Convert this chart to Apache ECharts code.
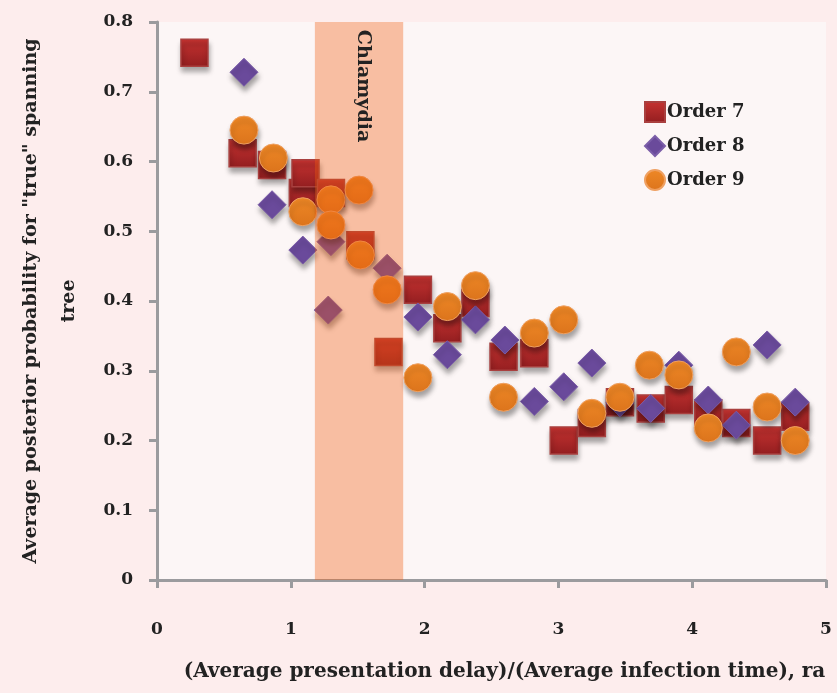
<!DOCTYPE html>
<html>
<head>
<meta charset="utf-8">
<script src="https://cdn.jsdelivr.net/npm/echarts@6/dist/echarts.min.js"></script>
<style>
  html, body { margin: 0; padding: 0; background: #fdeded; }
  #chart { width: 837px; height: 693px; }
</style>
</head>
<body>
<div id="chart"></div>
<script>
  // values
  let order7X = [0.28, 0.64, 0.86, 1.09, 1.11, 1.30, 1.52, 1.73, 1.95, 2.17, 2.38, 2.59, 2.82, 3.04, 3.25, 3.46, 3.69, 3.90, 4.12, 4.33, 4.56, 4.77];
  let order7Y = [0.756, 0.612, 0.595, 0.555, 0.583, 0.555, 0.48, 0.327, 0.416, 0.361, 0.397, 0.32, 0.325, 0.20, 0.225, 0.255, 0.246, 0.258, 0.239, 0.225, 0.20, 0.234];
  let order8X = [0.65, 0.86, 1.09, 1.28, 1.30, 1.72, 1.95, 2.17, 2.38, 2.60, 2.82, 3.04, 3.25, 3.46, 3.69, 3.90, 4.12, 4.33, 4.56, 4.77];
  let order8Y = [0.728, 0.538, 0.473, 0.387, 0.485, 0.447, 0.377, 0.323, 0.373, 0.344, 0.256, 0.277, 0.311, 0.254, 0.246, 0.308, 0.258, 0.222, 0.337, 0.255];
  let order9X = [0.65, 0.87, 1.09, 1.30, 1.30, 1.51, 1.52, 1.72, 1.95, 2.17, 2.38, 2.59, 2.82, 3.04, 3.25, 3.46, 3.68, 3.90, 4.12, 4.33, 4.56, 4.77];
  let order9Y = [0.645, 0.605, 0.528, 0.545, 0.509, 0.559, 0.466, 0.416, 0.29, 0.392, 0.422, 0.262, 0.354, 0.373, 0.239, 0.262, 0.308, 0.294, 0.218, 0.327, 0.248, 0.20];
  let seriesNames = ['Order 7', 'Order 8', 'Order 9'];
  let bandRange = [1.18, 1.84];
  let bandLabel = 'Chlamydia';
  let xTicks = [0, 1, 2, 3, 4, 5];
  let yTicks = [0, 0.1, 0.2, 0.3, 0.4, 0.5, 0.6, 0.7, 0.8];

  let font = 'DejaVu Serif';
  let textColor = '#222';
  let axisColor = '#9b9b9e';

  function pairs(xs, ys) {
    return xs.map(function (x, i) { return [x, ys[i]]; });
  }
  function grad(top, bottom) {
    return new echarts.graphic.LinearGradient(0, 0, 0, 1, [
      { offset: 0, color: top },
      { offset: 1, color: bottom }
    ]);
  }
  let shadow = {
    shadowBlur: 5,
    shadowOffsetX: 1,
    shadowOffsetY: 5,
    shadowColor: 'rgba(0,0,0,0.35)'
  };

  let chart = echarts.init(document.getElementById('chart'));
  let option = {
    backgroundColor: '#fdeded',
    animation: false,
    grid: {
      left: 157,
      right: 11,
      top: 22,
      bottom: 113,
      containLabel: false,
      outerBoundsMode: 'none',
      show: true,
      backgroundColor: '#fcf6f6',
      borderWidth: 0
    },
    legend: {
      orient: 'vertical',
      left: 639,
      top: 96,
      itemWidth: 20,
      itemHeight: 20,
      itemGap: 12,
      textStyle: { fontFamily: font, fontSize: 18, fontWeight: 'bold', color: textColor, padding: [0, 0, 0, -3] },
      data: [
        { name: seriesNames[0], icon: 'rect' },
        { name: seriesNames[1], icon: 'diamond' },
        { name: seriesNames[2], icon: 'circle' }
      ]
    },
    xAxis: {
      type: 'value',
      min: xTicks[0],
      max: xTicks[xTicks.length - 1],
      interval: 1,
      name: '(Average presentation delay)/(Average infection time), ra',
      nameLocation: 'middle',
      nameGap: 82,
      nameTextStyle: { fontFamily: font, fontSize: 20, fontWeight: 'bold', color: textColor, padding: [0, 0, 0, 26] },
      axisLine: { lineStyle: { color: axisColor, width: 3 } },
      axisTick: { show: true, length: 8, lineStyle: { color: axisColor, width: 3 } },
      axisLabel: { margin: 41, fontFamily: font, fontSize: 17, fontWeight: 'bold', color: textColor },
      splitLine: { show: false }
    },
    yAxis: {
      type: 'value',
      min: yTicks[0],
      max: yTicks[yTicks.length - 1],
      interval: 0.1,
      name: 'Average posterior probability for "true" spanning\ntree',
      nameLocation: 'middle',
      nameGap: 69,
      nameTextStyle: { fontFamily: font, fontSize: 19, fontWeight: 'bold', color: textColor, lineHeight: 38 },
      axisLine: { lineStyle: { color: axisColor, width: 3 } },
      axisTick: { show: true, length: 8, lineStyle: { color: axisColor, width: 3 } },
      axisLabel: { margin: 24, fontFamily: font, fontSize: 17, fontWeight: 'bold', color: textColor },
      splitLine: { show: false }
    },
    series: [
      {
        name: seriesNames[0],
        type: 'scatter',
        symbol: 'rect',
        symbolSize: 27,
        data: pairs(order7X, order7Y),
        itemStyle: Object.assign({
          color: grad('#c63331', '#931e20'),
          borderColor: '#a9403f',
          borderWidth: 1.5,
          opacity: 1
        }, shadow)
      },
      {
        name: seriesNames[1],
        type: 'scatter',
        symbol: 'diamond',
        symbolSize: 28,
        data: pairs(order8X, order8Y),
        itemStyle: Object.assign({
          color: '#6a4a9b',
          borderColor: '#7b5ea8',
          borderWidth: 1,
          opacity: 1
        }, shadow)
      },
      {
        name: seriesNames[2],
        type: 'scatter',
        symbol: 'circle',
        symbolSize: 28,
        data: pairs(order9X, order9Y),
        itemStyle: Object.assign({
          color: grad('#ee8826', '#dc741c'),
          borderColor: '#efa061',
          borderWidth: 1,
          opacity: 1
        }, shadow)
      },
      {
        name: 'band',
        type: 'scatter',
        data: [],
        z: 10,
        silent: true,
        markArea: {
          z: 10,
          silent: true,
          itemStyle: { color: 'rgba(240,92,14,0.36)' },
          label: {
            show: true,
            position: [48, 64],
            rotate: -90,
            align: 'center',
            verticalAlign: 'middle',
            fontFamily: font,
            fontSize: 19,
            fontWeight: 'bold',
            color: textColor
          },
          data: [[{ xAxis: bandRange[0], name: bandLabel }, { xAxis: bandRange[1] }]]
        }
      }
    ]
  };
  chart.setOption(option);
</script>
</body>
</html>
